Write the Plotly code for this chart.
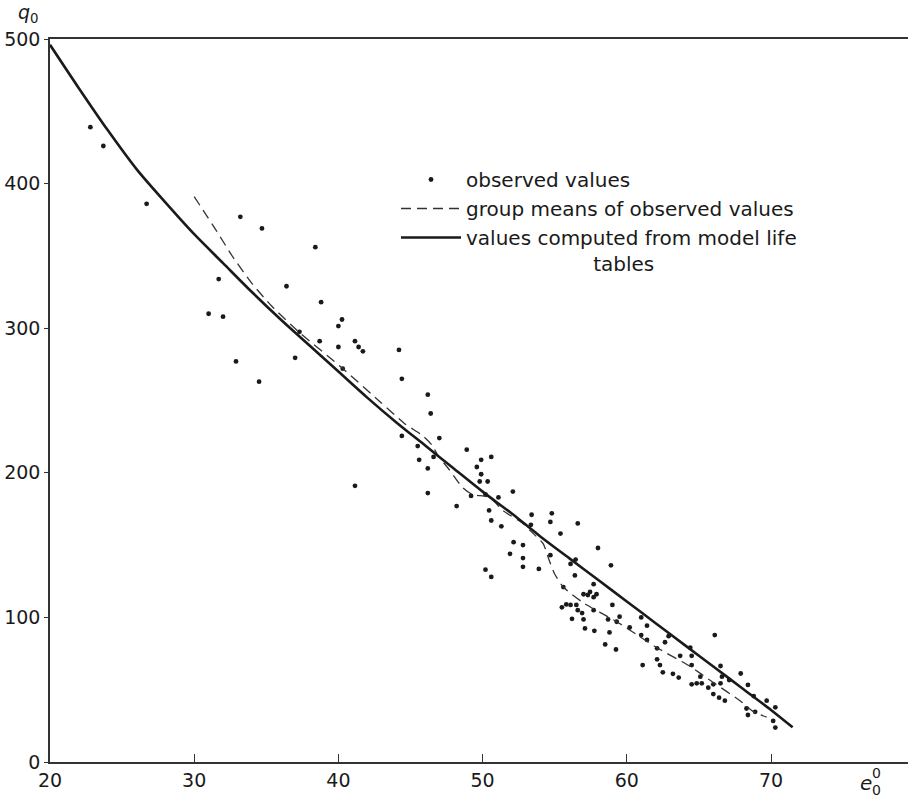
import plotly.graph_objects as go

# ---- data ----
obs_x = [22.8, 23.7, 26.7, 33.2, 34.7, 38.4, 31.7, 36.4, 38.8, 31.0, 32.0, 40.25, 40.0, 37.3,
         38.7, 40.0, 41.15, 41.4, 41.7, 44.2, 32.9, 37.0, 40.3, 34.5, 44.4, 46.2, 41.15,
         46.4, 47.0, 44.4, 45.5, 45.6, 46.2, 46.2, 46.6, 48.2, 48.9, 49.9, 50.6, 49.6, 49.9,
         49.8, 50.35, 49.2, 50.2, 51.1, 52.1, 50.45, 50.6, 51.3, 53.4, 54.8, 54.7, 56.6, 53.35,
         55.4, 52.15, 52.8, 51.9, 52.8, 52.8, 53.9, 50.2, 50.6, 54.7, 56.45, 58.0, 58.9,
         56.1, 56.4, 57.7, 57.0, 57.45, 57.7, 57.9, 57.3, 55.8, 56.1, 55.5, 56.5, 56.6, 56.9,
         57.7, 59.0, 56.2, 57.0, 57.1, 57.75, 58.7, 59.5, 59.3, 58.8, 58.5, 59.25, 60.2, 61.0,
         61.4, 61.4, 61.0, 62.65, 62.1, 62.9, 61.1, 62.1, 62.3, 62.5, 63.2, 63.6, 63.7, 64.5,
         64.4, 64.5, 65.1, 64.85, 64.5, 65.2, 65.65, 66.0, 66.0, 66.4, 66.8, 66.5, 66.5, 66.6,
         66.1, 67.1, 67.9, 68.4, 68.8, 68.3, 68.4, 68.9, 69.7, 70.3, 70.15, 70.3, 55.6]
obs_y = [439, 426, 386, 377, 369, 356, 334, 329, 318, 310, 308, 306, 301.5, 297.5,
         291, 287, 291, 287, 284, 285, 277, 279.5, 272, 263, 265, 254, 191,
         241, 224, 225.5, 218.5, 209, 203, 186, 211, 177, 216, 209, 211, 204, 199,
         194, 194, 184, 185, 183, 187, 174, 167, 163, 171, 172, 166, 165, 164,
         158, 152, 150, 144, 141, 135, 133.5, 133, 128, 143, 140, 148, 136,
         137, 129, 123, 116, 117.6, 114, 116, 115.5, 109, 108.6, 107, 108.6, 105, 103,
         105, 108.6, 99, 98.6, 92.4, 90.7, 98.6, 100.5, 97, 89.6, 81.3, 77.8, 93, 87.8,
         94.3, 84.4, 100, 82.8, 78.6, 87, 67, 71, 67, 62, 61, 58.4, 73.4, 73.4,
         79, 67, 59, 54.4, 53.7, 54.4, 51.4, 53.7, 47, 44.5, 42.4, 54.4, 66.4, 59,
         87.8, 56.7, 61.2, 53.3, 45.6, 37, 32.5, 34.7, 42.4, 37.8, 28.4, 23.8, 121]

mean_x = [30, 31.5, 32.7, 34, 35.4, 37.3, 40.2, 42.9, 44.6, 45.8, 46.5, 46.9, 47.7, 48.6,
          49.3, 50.5, 51.4, 52.8, 53.3, 54.2, 54.6, 55.0, 55.6, 57, 59.3, 60.7, 62.1,
          64.4, 66, 67.9, 68.75, 69.7]
mean_y = [391, 368, 349, 331, 315, 297, 273, 249, 234, 226, 219, 212, 202, 190,
          185, 183, 174, 165, 160, 151, 140, 130, 121, 110, 97, 88, 79,
          66, 55, 42, 35, 31]

model_x = [20, 22, 24, 26, 28, 30, 32, 34, 36, 38, 40, 42, 44, 46, 48, 50, 52, 54, 56,
           58, 60, 62, 64, 66, 68, 70, 71.5]
model_y = [496, 466, 437, 410, 387, 365, 345, 325, 306, 288, 270, 252, 235, 219, 203, 187,
           172, 156, 141, 126, 111, 96, 81, 66, 51, 36, 24]

x_ticks = [20, 30, 40, 50, 60, 70]
y_ticks = [0, 100, 200, 300, 400, 500]

FONT = "DejaVu Sans"
INK = "#1a1a1a"

fig = go.Figure()
fig.add_trace(go.Scatter(
    x=obs_x, y=obs_y, mode="markers", name="observed values",
    marker=dict(color=INK, size=4.8, line=dict(width=0)),
))
fig.add_trace(go.Scatter(
    x=mean_x, y=mean_y, mode="lines", name="group means of observed values",
    line=dict(color="#333333", width=1.3, dash="10px,6px", shape="spline", smoothing=0.6),
))
fig.add_trace(go.Scatter(
    x=model_x, y=model_y, mode="lines",
    name="values computed from model life<br>                    tables",
    line=dict(color=INK, width=2.6, shape="spline", smoothing=0.8),
))

W, H = 908, 797
L, R, T, B = 50, 0, 39, 35


def px(xp, yp):
    return (xp - L) / (W - L - R), (H - B - yp) / (H - T - B)


ann = []
qx, qy = px(28, 14)
ann.append(dict(x=qx, y=qy, xref="paper", yref="paper", text="<i>q</i><sub>0</sub>",
                xanchor="center", yanchor="middle",
                showarrow=False, font=dict(family=FONT, size=19, color=INK)))
ex, ey = px(866, 783)
ann.append(dict(x=ex, y=ey, xref="paper", yref="paper", text="<i>e</i>",
                xanchor="center", yanchor="middle",
                showarrow=False, font=dict(family=FONT, size=20, color=INK)))
sx, sy = px(876, 773)
ann.append(dict(x=sx, y=sy, xref="paper", yref="paper", text="0",
                xanchor="center", yanchor="middle",
                showarrow=False, font=dict(family=FONT, size=14, color=INK)))
bx, by = px(876, 790)
ann.append(dict(x=bx, y=by, xref="paper", yref="paper", text="0",
                xanchor="center", yanchor="middle",
                showarrow=False, font=dict(family=FONT, size=14, color=INK)))

lgx, lgy = px(396, 160)

fig.update_layout(
    width=W, height=H,
    margin=dict(l=L, r=R, t=T, b=B, pad=0),
    paper_bgcolor="white", plot_bgcolor="white",
    font=dict(family=FONT, color=INK),
    showlegend=True,
    legend=dict(x=lgx, y=lgy, xanchor="left", yanchor="top", valign="top",
                itemwidth=60,
                font=dict(family=FONT, size=20, color=INK),
                bgcolor="rgba(0,0,0,0)", borderwidth=0),
    annotations=ann,
)
fig.update_xaxes(
    range=[20, 20 + (W - L - R) / 14.42], tickvals=x_ticks, ticktext=[str(v) for v in x_ticks],
    showgrid=False, zeroline=False, showline=True, linecolor="#333333", linewidth=1.5,
    mirror=True, ticks="inside", ticklen=8, tickcolor="#333333", tickwidth=1.2,
    tickfont=dict(family=FONT, size=19, color=INK),
)
fig.update_yaxes(
    range=[0, 500], tickvals=y_ticks, ticktext=[str(v) for v in y_ticks],
    showgrid=False, zeroline=False, showline=True, linecolor="#333333", linewidth=1.5,
    mirror=False, ticks="outside", ticklen=4, tickcolor="#333333", tickwidth=1.2,
    tickfont=dict(family=FONT, size=19, color=INK),
)

fig.write_html(
    "out.html",
    config={"displayModeBar": False},
    post_script="document.body.style.margin='0px';document.body.style.overflow='hidden';",
)
